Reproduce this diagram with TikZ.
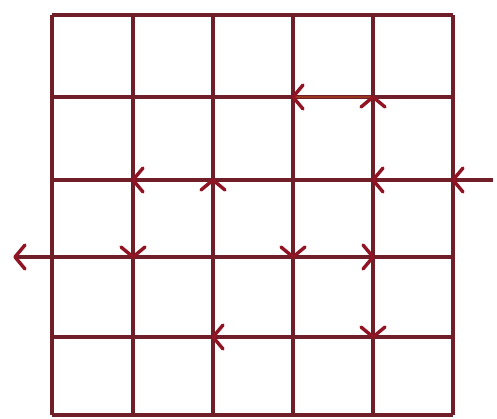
\documentclass[tikz,border=0pt]{standalone}
\begin{document}
\begin{tikzpicture}[x=1pt,y=1pt,
  gridline/.style={draw=gridc,line width=3.2pt},
  headline/.style={draw=arrc,line width=3.4pt,line cap=round,line join=round},
  vhead/.pic={\draw[headline] (10,12) -- (0,0) -- (10,-12);}]
\definecolor{gridc}{RGB}{112,30,40}
\definecolor{arrc}{RGB}{145,20,36}
\definecolor{hlc}{RGB}{150,55,30}
\fill[white] (0,0) rectangle (497,418);
\useasboundingbox (0,0) rectangle (497,418);
% grid
\foreach \x in {52,133,213,293,373,453}{
  \draw[gridline] (\x,3) -- (\x,403);
}
\foreach \y in {403,321,238,161,81,3}{
  \draw[gridline] (52,\y) -- (453,\y);
}
% extensions
\coordinate (Rend) at (493,238);
\coordinate (Lend) at (15,161);
\draw[gridline] (453,238) -- (Rend);
\draw[gridline] (52,161) -- (Lend);
% highlighted segment
\draw[draw=hlc,line width=2.6pt] (293,321) -- (373,321);
% arrowheads
\pic at (293,321) {vhead};
\pic[rotate=-90] at (373,321) {vhead};
\pic at (133,238) {vhead};
\pic[rotate=-90] at (213,238) {vhead};
\pic at (373,238) {vhead};
\pic at (453,238) {vhead};
\pic at (Lend) {vhead};
\pic[rotate=90] at (133,161) {vhead};
\pic[rotate=90] at (293,161) {vhead};
\pic[rotate=180] at (373,161) {vhead};
\pic at (213,81) {vhead};
\pic[rotate=90] at (373,81) {vhead};
\end{tikzpicture}
\end{document}
